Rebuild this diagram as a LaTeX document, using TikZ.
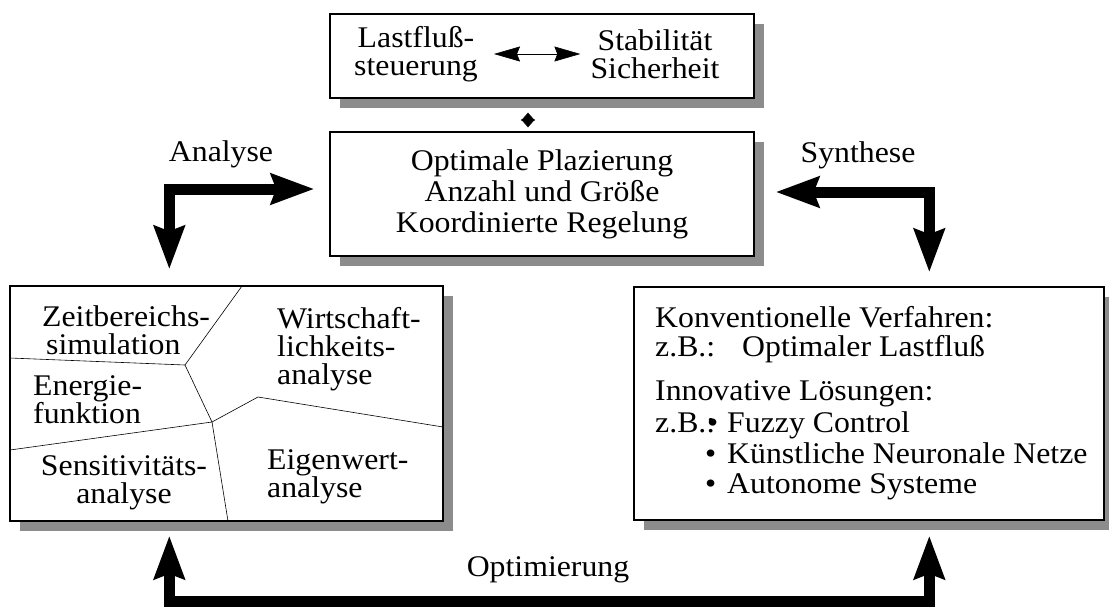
\documentclass[tikz,border=0pt]{standalone}
\usepackage{fontspec}
\setmainfont[FakeStretch=1.06]{Liberation Serif}
\usetikzlibrary{arrows.meta,calc,shadows}

\begin{document}
\begin{tikzpicture}[x=1pt,y=-1pt,
  box/.style={draw, line width=1.4pt, fill=white, inner sep=0pt,
    drop shadow={shadow xshift=10pt, shadow yshift=-10pt, fill=black!45, opacity=1}},
  txt/.style={font=\fontsize{30}{28}\selectfont, inner sep=0pt},
  bighead/.tip={Stealth[length=43pt,width=30pt,inset=5pt]},
  bigarrow/.style={line width=11pt, bighead-bighead},
  divline/.style={line width=0.6pt},
]
\useasboundingbox (0,0) rectangle (1109,610);

% boxes
\node[box, minimum width=424pt, minimum height=84pt] (top) at (542,56) {};
\node[box, minimum width=424pt, minimum height=124pt, align=center,
      font=\fontsize{30}{31}\selectfont] (mid) at (542,194)
  {Optimale Plazierung\\Anzahl und Größe\\Koordinierte Regelung};
\node[box, minimum width=433pt, minimum height=235pt] (ana) at (226.5,403.5) {};
\node[box, minimum width=470pt, minimum height=233pt] (syn) at (869,403.5) {};

% top box content
\node[txt, align=center] (lf) at (416,54) {Lastfluß-\\steuerung};
\node[txt, align=center] (st) at (655,54) {Stabilität\\Sicherheit};
\draw[line width=0.6pt, {Stealth[length=26pt,width=15pt,inset=3pt]}-{Stealth[length=26pt,width=15pt,inset=3pt]},
      shorten <=16pt, shorten >=10pt] (lf) -- (st);

% link between top and middle box
\coordinate (lnkA) at ($(top.south)+(-14,14)$);
\coordinate (lnkB) at ($(mid.north)+(-14,-4)$);
\draw[line width=0.6pt, {Triangle[length=8pt,width=14pt]}-{Triangle[length=8pt,width=14pt]}] (lnkA) -- (lnkB);

% labels
\node[txt, anchor=base] (lblA) at (221,161) {Analyse};
\node[txt, anchor=base] (lblS) at (858,162) {Synthese};
\node[txt, anchor=base] (lblO) at (548,576) {Optimierung};

% thick arrows
\draw[bigarrow] ($(mid.west)+(-15,-5)$) -| ($(ana.north west)+(160,-16)$);
\draw[bigarrow] ($(mid.east)+(21,-2)$) -| ($(syn.north west)+(296,-14)$);
\coordinate (lowL) at ($(ana.south west)+(160,80)$);
\draw[bigarrow] ($(ana.south west)+(160,14)$) -- (lowL) -| ($(syn.south west)+(296,15)$);

% left box partition
\coordinate (p1) at (242,286);
\coordinate (j1) at (185,365);
\coordinate (l1) at (10,358);
\coordinate (j2) at (212,422);
\coordinate (l2) at (10,450);
\coordinate (p2) at (258,397);
\coordinate (r1) at (443,427);
\coordinate (b1) at (228,521);
\draw[divline] (p1) -- (j1) -- (l1);
\draw[divline] (j1) -- (j2) -- (l2);
\draw[divline] (j2) -- (p2) -- (r1);
\draw[divline] (j2) -- (b1);

% anchor=base puts the last line of each block on the given baseline
\node[txt, align=left, anchor=base west] (zb) at (42,354) {Zeitbereichs-\\\hspace*{4pt}simulation};
\node[txt, align=left, anchor=base west] (wa) at (277,384) {Wirtschaft-\\lichkeits-\\analyse};
\node[txt, align=left, anchor=base west] (ef) at (33,423) {Energie-\\funktion};
\node[txt, align=center, anchor=base] (sa) at (124,503) {Sensitivitäts-\\analyse};
\node[txt, align=left, anchor=base west] (ea) at (267,497) {Eigenwert-\\analyse};

% right box content
\node[txt, anchor=base west] (kv) at (655,327) {Konventionelle Verfahren:};
\node[txt, anchor=base west] (zb1) at (655,356) {z.B.:};
\node[txt, anchor=base west] (ol) at (742,356) {Optimaler Lastfluß};
\node[txt, anchor=base west] (il) at (655,400) {Innovative Lösungen:};
\node[txt, anchor=base west] (zb2) at (655,432) {z.B.:};
\node[txt, anchor=base west] (bu1) at (707,432) {•};
\node[txt, anchor=base west] (fc) at (727,432) {Fuzzy Control};
\node[txt, anchor=base west] (bu2) at (705,463) {•};
\node[txt, anchor=base west] (kn) at (727,463) {Künstliche Neuronale Netze};
\node[txt, anchor=base west] (bu3) at (705,493) {•};
\node[txt, anchor=base west] (as) at (727,493) {Autonome Systeme};
\end{tikzpicture}
\end{document}
